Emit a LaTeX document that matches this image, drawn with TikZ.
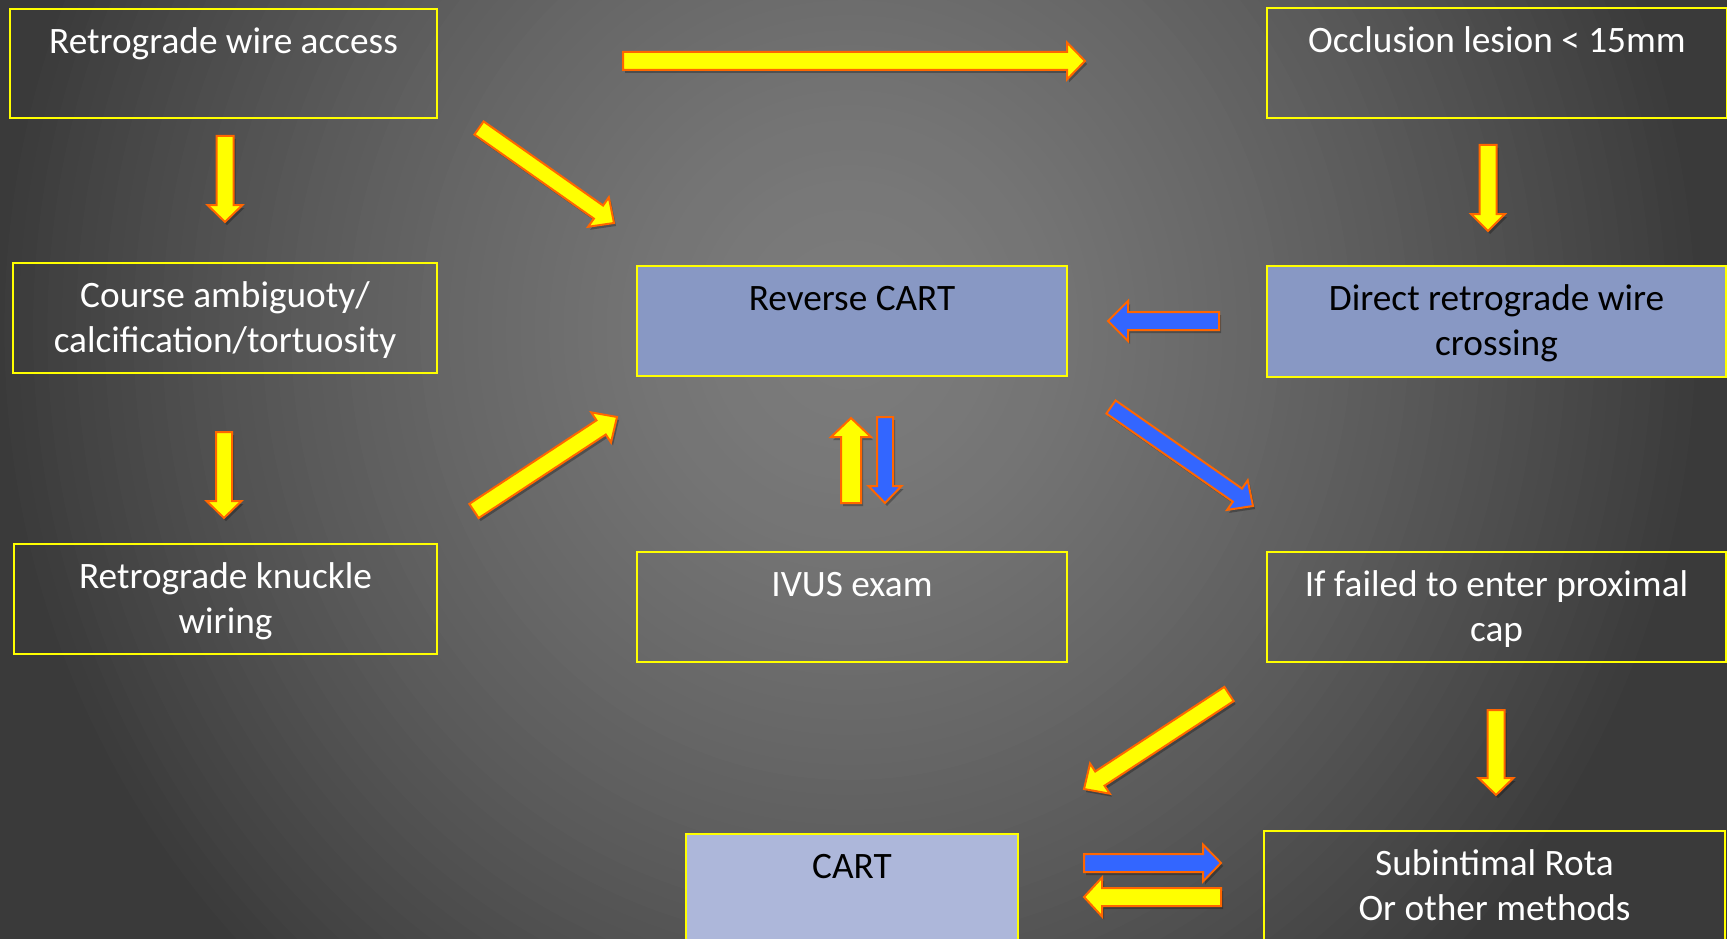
\documentclass[tikz,border=0pt]{standalone}
\usepackage{fontspec}
\setmainfont{Carlito}
\usetikzlibrary{calc}
\definecolor{bgOuter}{HTML}{3A3A3A}
\definecolor{boxline}{HTML}{FFFF00}
\definecolor{boxblue}{HTML}{8898C4}
\definecolor{cartblue}{HTML}{ADB7DA}
\definecolor{arrY}{HTML}{FFFF00}
\definecolor{arrB}{HTML}{3366FF}
\definecolor{arrO}{HTML}{FF6600}
\tikzset{
  box/.style={draw=boxline, line width=2pt, inner sep=0pt, anchor=north west, text=white},
  bluebox/.style={box, fill=boxblue, text=black},
  cartbox/.style={box, fill=cartblue, text=black},
  yarrow/.style={fill=arrY, draw=arrO, line width=2pt},
  barrow/.style={fill=arrB, draw=arrO, line width=2pt},
}
\newcommand{\bt}[3]{\parbox[t][#2][t]{#1}{\centering\fontsize{37.3}{45}\selectfont\rule{0pt}{44.5pt}#3}}
\newcommand{\arrowshape}[5]{($(#1)!#3pt!90:(#2)$) -- ($(neck)!#3pt!90:(#2)$) -- ($(neck)!#4pt!90:(#2)$) -- (#2) -- ($(neck)!#4pt!-90:(#2)$) -- ($(neck)!#3pt!-90:(#2)$) -- ($(#1)!#3pt!-90:(#2)$) -- cycle}
% #1 style, #2 from, #3 to, #4 half body, #5 half head, #6 head length
\newcommand{\blockarrow}[6]{%
  \coordinate (neck) at ($(#3)!#6pt!(#2)$);
  \begin{scope}[transform canvas={shift={(2pt,-3pt)}}]
    \fill[black, opacity=0.28] \arrowshape{#2}{#3}{#4}{#5}{#6};
  \end{scope}
  \draw[#1] \arrowshape{#2}{#3}{#4}{#5}{#6};
}
\begin{document}
\begin{tikzpicture}[x=1pt, y=-1pt]
\useasboundingbox (0,0) rectangle (1727,939);
\begin{scope}
  \clip (0,0) rectangle (1727,939);
  \fill[bgOuter] (0,0) rectangle (1727,939);
  \foreach \i [evaluate=\i as \r using \i/60,
               evaluate=\i as \g using (124-66*(\i/60)^1.5)/255] in {60,59,...,1} {
    \definecolor{bgtmp}{gray}{\g}
    \fill[bgtmp] (850,330) ellipse [x radius=\r*860, y radius=\r*900];
  }
\end{scope}

% boxes
\node[box] (rwa) at (9,8) {\bt{427pt}{109pt}{Retrograde wire access}};
\node[box] (course) at (12,262) {\bt{424pt}{110pt}{Course ambiguoty/\\calcification/tortuosity}};
\node[box] (knuckle) at (13,543) {\bt{423pt}{110pt}{Retrograde knuckle\\wiring}};
\node[bluebox] (rcart) at (636,265) {\bt{430pt}{110pt}{Reverse CART}};
\node[box] (ivus) at (636,551) {\bt{430pt}{110pt}{IVUS exam}};
\node[cartbox] (cart) at (685,833) {\bt{332pt}{115pt}{CART}};
\node[box] (occl) at (1266,7) {\bt{460pt}{110pt}{Occlusion lesion < 15mm}};
\node[bluebox] (direct) at (1266,265) {\bt{459pt}{111pt}{Direct retrograde wire\\crossing}};
\node[box] (fail) at (1266,551) {\bt{459pt}{110pt}{If failed to enter proximal\\cap}};
\node[box] (subint) at (1263,830) {\bt{461pt}{115pt}{Subintimal Rota\\Or other methods}};

% arrow end points
\coordinate (a1s) at (623,61);   \coordinate (a1e) at (1085,61);
\coordinate (a2s) at (225,136);  \coordinate (a2e) at (225,222);
\coordinate (a3s) at (224,432);  \coordinate (a3e) at (224,518);
\coordinate (a4s) at (479,128);  \coordinate (a4e) at (614,223);
\coordinate (a5s) at (474,511);  \coordinate (a5e) at (617,417);
\coordinate (a6s) at (1488,145); \coordinate (a6e) at (1488,231);
\coordinate (a7s) at (1219,321); \coordinate (a7e) at (1108,321);
\coordinate (a8s) at (851,503);  \coordinate (a8e) at (851,418);
\coordinate (a9s) at (885,417);  \coordinate (a9e) at (885,503);
\coordinate (a10s) at (1111,407); \coordinate (a10e) at (1253,506);
\coordinate (a11s) at (1229,694); \coordinate (a11e) at (1084,789);
\coordinate (a12s) at (1496,710); \coordinate (a12e) at (1496,795);
\coordinate (a13s) at (1084,863); \coordinate (a13e) at (1221,863);
\coordinate (a14s) at (1221,897); \coordinate (a14e) at (1084,897);

\blockarrow{yarrow}{a1s}{a1e}{9}{18.5}{18}
\blockarrow{yarrow}{a2s}{a2e}{8.5}{17.5}{17}
\blockarrow{yarrow}{a3s}{a3e}{8}{17.5}{17}
\blockarrow{yarrow}{a4s}{a4e}{8}{18}{19}
\blockarrow{yarrow}{a5s}{a5e}{8.5}{18}{19}
\blockarrow{yarrow}{a6s}{a6e}{8.5}{17}{17}
\blockarrow{barrow}{a7s}{a7e}{9}{20}{20}
\blockarrow{yarrow}{a8s}{a8e}{10}{20}{19}
\blockarrow{barrow}{a9s}{a9e}{8}{16.5}{17}
\blockarrow{barrow}{a10s}{a10e}{8}{18}{19}
\blockarrow{yarrow}{a11s}{a11e}{8.5}{18}{19}
\blockarrow{yarrow}{a12s}{a12e}{8.5}{17.5}{17}
\blockarrow{barrow}{a13s}{a13e}{9}{18.5}{18}
\blockarrow{yarrow}{a14s}{a14e}{9}{19.5}{18}
\end{tikzpicture}
\end{document}
